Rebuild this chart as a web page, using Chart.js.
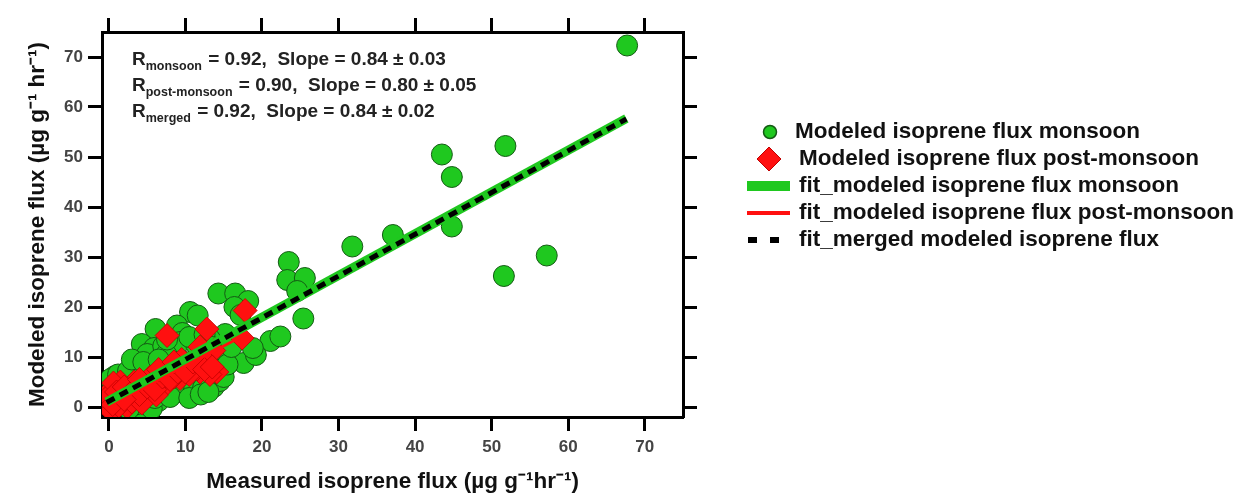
<!DOCTYPE html>
<html>
<head>
<meta charset="utf-8">
<script src="https://cdn.jsdelivr.net/npm/chart.js@4.4.0/dist/chart.umd.min.js"></script>
<style>
  html, body { margin: 0; padding: 0; background: #fff; }
  #wrap { width: 1237px; height: 498px; }
</style>
</head>
<body>
<div id="wrap"><canvas id="chart" width="1237" height="498"></canvas></div>
<script>
// Modeled isoprene flux, monsoon (green circles)
const monsoonX = [67.7, 43.5, 51.8, 44.8, 44.8, 37.1, 31.8, 57.2, 51.6, 23.5, 23.3, 25.6, 24.6, 25.4,
  14.3, 16.5, 18.2, 16.4, 17.2, 10.6, 11.6, 21.1, 22.4, 17.6, 19.2, 18.8, 15.0, 15.2, 14.4,
  6.1, 8.9, 9.6, 4.3, 5.9, 9.3, 5.0, 7.1, 3.6, 2.0, 0.8, 0.2, 11.4, 13.2,
  4.4, 5.4, 6.5, 7.3, 8.9, 9.9, 11.1, 12.3, 13.7, 14.5, 14.8, 3.5, 2.6,
  8.0, 10.0, 6.0, 12.0, 3.0, 1.0, 0.5, 7.5, 1.5,
  1.2, 2.5, 3.0, 4.5, 6.5, 7.6, 10.5, 12.5, 13.5, 5.6, 6.0, 8.0, 10.5, 12.0, 13.0, 15.0, 15.5, 16.0];
const monsoonY = [72.3, 50.5, 52.2, 46.0, 36.1, 34.4, 32.1, 30.3, 26.2, 29.0, 25.4, 25.8, 23.2, 17.7,
  22.7, 22.7, 21.2, 20.0, 18.4, 19.0, 18.3, 13.2, 14.1, 8.8, 10.4, 11.8, 10.8, 14.6, 11.6,
  15.6, 16.3, 14.8, 12.6, 11.8, 13.0, 10.6, 12.2, 8.5, 6.0, 6.2, 5.6, 12.5, 13.6,
  -0.5, 0.3, 1.2, 2.5, 3.0, 2.8, 3.3, 3.8, 4.0, 5.2, 7.0, 0.5, -0.4,
  8.0, 9.0, 6.5, 10.0, 3.5, 1.5, 2.5, 10.5, 4.0,
  6.5, 7.2, 9.5, 9.0, 9.5, 13.5, 14.0, 14.5, 12.0, -0.3, 1.8, 2.0, 1.8, 2.5, 3.0, 6.0, 8.5, 12.0];

// Modeled isoprene flux, post-monsoon (red diamonds)
const postX = [7.6, 12.8, 17.8, 17.4, 11.9, 13.7, 14.1, 11.9, 13.2, 11.5, 10.2, 11.9, 9.3, 7.6, 7.6,
  5.4, 5.4, 3.3, 3.7, 1.5, 0.2, 1.1, -0.2, 2.4, -0.2, 0.3, 1.3, 2.4, 8.5, 9.5, 6.5, 4.5, 10.5,
  12.5, 3.0, 0.5, 0.6, 4.3, 6.2,
  1.0, 2.0, 3.0, 4.0, 5.0, 6.0, 7.0, 8.0, 9.0, 10.0, 11.0, 12.5, 13.5, 2.0, 4.0, 6.5, 8.5];
const postY = [14.3, 15.6, 19.3, 13.8, 12.0, 11.3, 7.0, 7.0, 6.5, 7.6, 8.3, 8.9, 5.7, 4.7, 7.3,
  6.0, 2.7, 5.0, 2.0, 5.0, 3.3, 1.3, 0.0, 0.0, 2.0, -0.8, 0.2, 2.7, 6.0, 9.5, 5.0, 4.0, 6.5,
  9.5, 1.0, 0.5, 4.8, 0.8, 2.4,
  3.0, 4.0, 3.0, 2.5, 4.0, 3.5, 6.0, 5.5, 7.0, 7.0, 9.0, 7.5, 8.0, 1.5, 5.5, 7.5, 9.0];

// fit line end points
const fitMonsoonX = [-0.3, 67.6];
const fitMonsoonY = [1.0, 57.7];
const fitPostX = [-0.3, 18.0];
const fitPostY = [0.0, 14.6];
const fitMergedX = [-0.3, 67.6];
const fitMergedY = [0.9, 57.6];

const xTicks = [0, 10, 20, 30, 40, 50, 60, 70];
const yTicks = [0, 10, 20, 30, 40, 50, 60, 70];

const statNames = ["monsoon", "post-monsoon", "merged"];
const statR = ["0.92", "0.90", "0.92"];
const statSlope = ["0.84 ± 0.03", "0.80 ± 0.05", "0.84 ± 0.02"];

const legendLabels = [
  "Modeled isoprene flux monsoon",
  "Modeled isoprene flux post-monsoon",
  "fit_modeled isoprene flux monsoon",
  "fit_modeled isoprene flux post-monsoon",
  "fit_merged modeled isoprene flux"
];

const GREEN = "#1fc81f";
const GREEN_EDGE = "#145a14";
const RED = "#ff1010";
const RED_EDGE = "#c00000";
const FONT = "'Liberation Sans', Arial, sans-serif";

const toPoints = (xs, ys) => xs.map((x, i) => ({ x: x, y: ys[i] }));

// text block + legend drawn on top of the datasets
const extras = {
  id: "extras",
  afterDraw(chart) {
    const ctx = chart.ctx;
    ctx.save();

    // R / slope statistics
    ctx.fillStyle = "#222";
    ctx.textBaseline = "alphabetic";
    ctx.textAlign = "left";
    const baselines = [65, 91, 117];
    statNames.forEach((name, i) => {
      let x = 132;
      ctx.font = "bold 19px " + FONT;
      ctx.fillText("R", x, baselines[i]);
      x += ctx.measureText("R").width;
      ctx.font = "bold 12.5px " + FONT;
      ctx.fillText(name, x, baselines[i] + 5);
      x += ctx.measureText(name).width + 1;
      ctx.font = "bold 19px " + FONT;
      ctx.fillText(" = " + statR[i] + ",  Slope = " + statSlope[i], x, baselines[i]);
    });

    // legend
    const rows = [132, 159, 186, 213, 240];
    ctx.font = "bold 22.5px " + FONT;
    ctx.textBaseline = "middle";
    legendLabels.forEach((label, i) => {
      const y = rows[i];
      if (i === 0) {
        ctx.beginPath();
        ctx.arc(770, y, 6.5, 0, Math.PI * 2);
        ctx.fillStyle = GREEN;
        ctx.fill();
        ctx.lineWidth = 1.5;
        ctx.strokeStyle = GREEN_EDGE;
        ctx.stroke();
      } else if (i === 1) {
        ctx.beginPath();
        ctx.moveTo(769, y - 12);
        ctx.lineTo(781, y);
        ctx.lineTo(769, y + 12);
        ctx.lineTo(757, y);
        ctx.closePath();
        ctx.fillStyle = RED;
        ctx.fill();
        ctx.lineWidth = 1;
        ctx.strokeStyle = RED_EDGE;
        ctx.stroke();
      } else if (i === 2) {
        ctx.fillStyle = GREEN;
        ctx.fillRect(747, y - 5, 43, 10);
      } else if (i === 3) {
        ctx.fillStyle = RED;
        ctx.fillRect(747, y - 2, 43, 4);
      } else {
        ctx.fillStyle = "#000";
        ctx.fillRect(748, y - 3, 9, 6);
        ctx.fillRect(770, y - 3, 9, 6);
      }
      ctx.fillStyle = "#111";
      ctx.fillText(label, i === 0 ? 795 : 799, y);
    });
    ctx.restore();
  }
};

const tickStyle = {
  display: true,
  drawOnChartArea: false,
  drawTicks: true,
  tickLength: 14,
  tickWidth: 3,
  tickColor: "#000"
};
const frame = { display: true, color: "#000", width: 3 };
const tickFont = { family: FONT, size: 17, weight: "bold" };
const titleFont = { family: FONT, size: 22.5, weight: "bold" };

new Chart(document.getElementById("chart").getContext("2d"), {
  type: "scatter",
  data: {
    datasets: [
      {
        type: "line",
        label: legendLabels[4],
        data: toPoints(fitMergedX, fitMergedY),
        borderColor: "#000",
        borderWidth: 5,
        borderDash: [9, 6],
        pointRadius: 0,
        fill: false,
        order: 0
      },
      {
        type: "line",
        label: legendLabels[3],
        data: toPoints(fitPostX, fitPostY),
        borderColor: RED,
        borderWidth: 3,
        pointRadius: 0,
        fill: false,
        order: 2
      },
      {
        type: "line",
        label: legendLabels[2],
        data: toPoints(fitMonsoonX, fitMonsoonY),
        borderColor: GREEN,
        borderWidth: 9,
        pointRadius: 0,
        fill: false,
        order: 1
      },
      {
        label: legendLabels[1],
        data: toPoints(postX, postY),
        pointStyle: "rectRot",
        pointRadius: 12,
        backgroundColor: RED,
        borderColor: RED_EDGE,
        borderWidth: 0.8,
        order: 3
      },
      {
        label: legendLabels[0],
        data: toPoints(monsoonX, monsoonY),
        pointStyle: "circle",
        pointRadius: 10.5,
        backgroundColor: GREEN,
        borderColor: GREEN_EDGE,
        borderWidth: 1,
        order: 4
      }
    ]
  },
  options: {
    responsive: false,
    animation: false,
    devicePixelRatio: 1,
    layout: { padding: { left: 0, top: 0, bottom: 0, right: 524 } },
    plugins: { legend: { display: false }, tooltip: { enabled: false } },
    scales: {
      x: {
        type: "linear",
        position: "bottom",
        min: -0.9,
        max: 75,
        afterBuildTicks: s => { s.ticks = xTicks.map(v => ({ value: v })); },
        afterFit: s => { s.height = 81; },
        grid: tickStyle,
        border: frame,
        ticks: { color: "#444", font: tickFont, padding: 6, maxRotation: 0, autoSkip: false },
        title: {
          display: true,
          text: "Measured isoprene flux (µg g⁻¹hr⁻¹)",
          color: "#111",
          font: titleFont,
          padding: { top: 0, bottom: 3 }
        }
      },
      x2: {
        type: "linear",
        position: "top",
        min: -0.9,
        max: 75,
        afterBuildTicks: s => { s.ticks = xTicks.map(v => ({ value: v })); },
        afterFit: s => { s.height = 32; },
        grid: tickStyle,
        border: frame,
        ticks: { display: false }
      },
      y: {
        type: "linear",
        position: "left",
        min: -2,
        max: 75,
        afterBuildTicks: s => { s.ticks = yTicks.map(v => ({ value: v })); },
        afterFit: s => { s.width = 102; },
        grid: tickStyle,
        border: frame,
        ticks: { color: "#444", font: tickFont, padding: 5, autoSkip: false },
        title: {
          display: true,
          text: "Modeled isoprene flux (µg g⁻¹ hr⁻¹)",
          color: "#111",
          font: titleFont,
          padding: { top: 24, bottom: 0 }
        }
      },
      y2: {
        type: "linear",
        position: "right",
        min: -2,
        max: 75,
        afterBuildTicks: s => { s.ticks = yTicks.map(v => ({ value: v })); },
        afterFit: s => { s.width = 30; },
        grid: tickStyle,
        border: frame,
        ticks: { display: false }
      }
    }
  },
  plugins: [extras]
});
</script>
</body>
</html>
